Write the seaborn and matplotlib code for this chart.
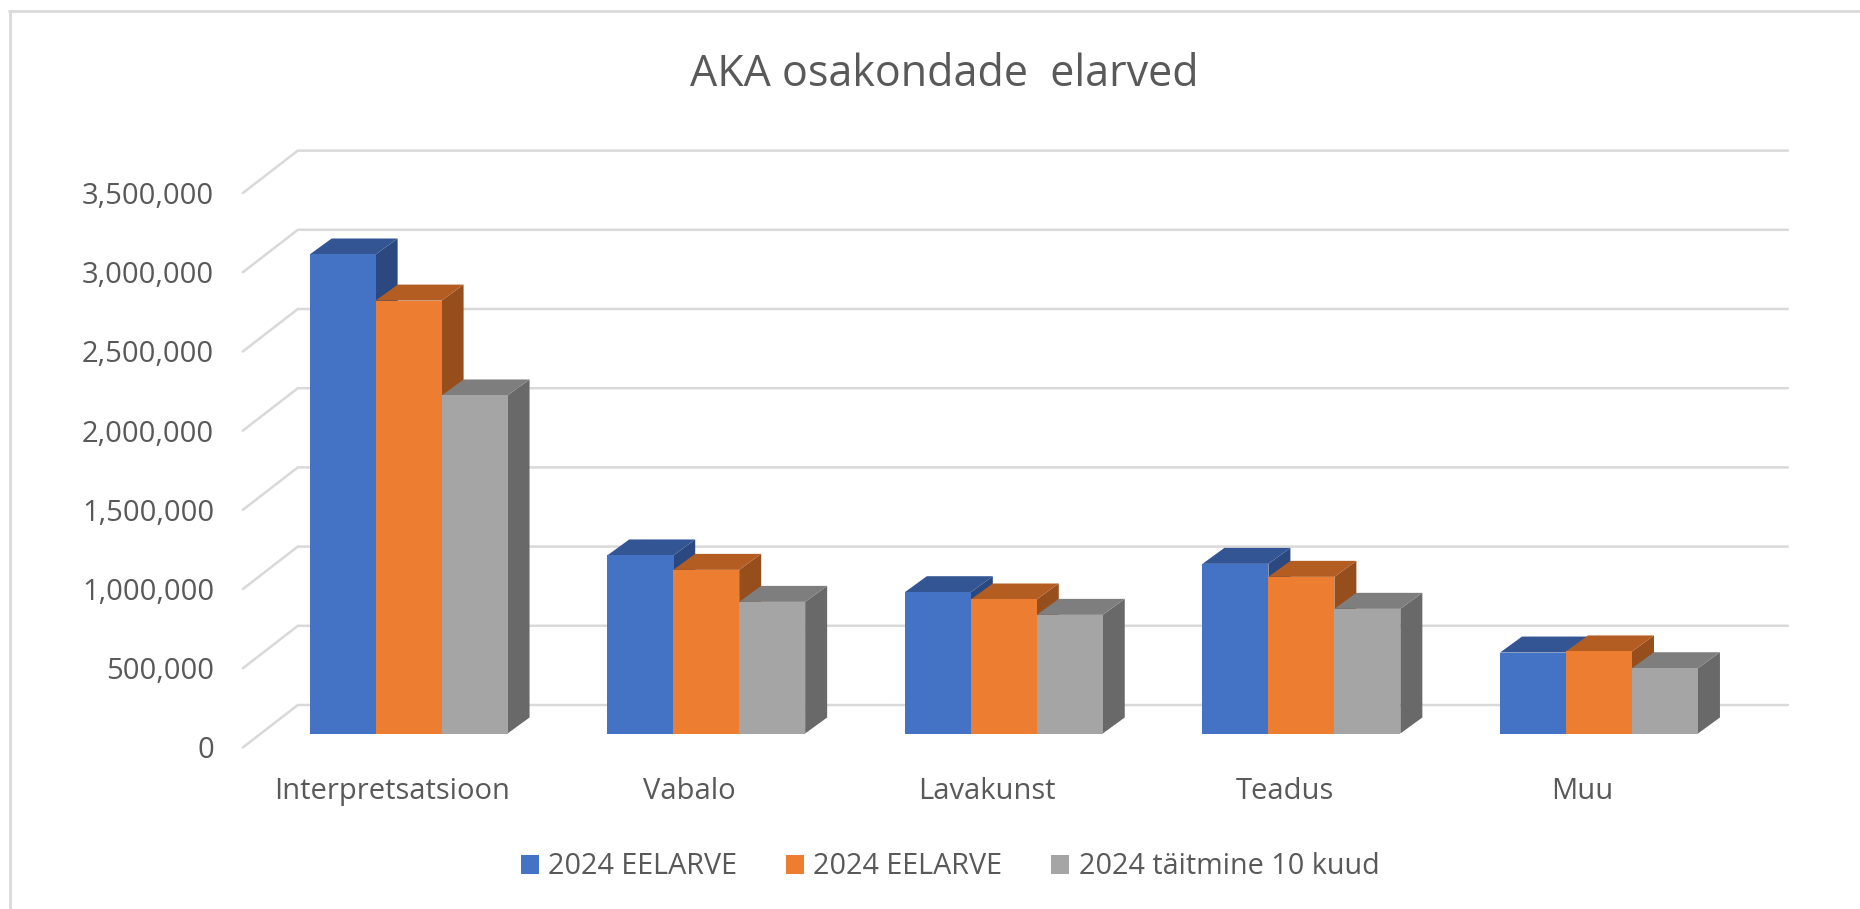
import numpy as np
import pandas as pd
import matplotlib
matplotlib.use("Agg")
import matplotlib.pyplot as plt
from matplotlib.lines import Line2D
from matplotlib.patches import Polygon
from matplotlib.transforms import Affine2D
import seaborn as sns

title = "AKA osakondade  elarved"
categories = ["Interpretsatsioon", "Vabalo", "Lavakunst", "Teadus", "Muu"]
series_labels = ["2024 EELARVE", "2024 EELARVE", "2024 täitmine 10 kuud"]
eelarve_a = [3024000, 1124000, 892000, 1071000, 511000]
eelarve_b = [2733000, 1033000, 846000, 989000, 518000]
taitmine = [2134000, 831000, 749000, 787000, 412000]
y_ticks = [0, 500000, 1000000, 1500000, 2000000, 2500000, 3000000, 3500000]

front_colors = ["#4472C4", "#ED7D31", "#A5A5A5"]
side_colors = ["#2B4880", "#964F1C", "#696969"]
top_colors = ["#335594", "#B35D22", "#7E7E7E"]
text_color = "#595959"
grid_color = "#D9D9D9"

sns.set_theme(style="white")
plt.rcParams["font.family"] = ["Open Sans", "DejaVu Sans"]

W, H = 1860, 909
fig = plt.figure(figsize=(W / 100, H / 100), dpi=100, facecolor="white")
PX_L, PX_R, PX_B, PX_T = 259.8, 1747.8, 733.5, 179.1
ax = fig.add_axes([PX_L / W, (H - PX_B) / H, (PX_R - PX_L) / W, (PX_B - PX_T) / H])

keys = ["a", "b", "c"]
df = pd.DataFrame({
    "cat": np.repeat(categories, 3),
    "key": keys * len(categories),
    "value": np.column_stack([eelarve_a, eelarve_b, taitmine]).ravel(),
})
sns.barplot(data=df, x="cat", y="value", hue="key", hue_order=keys, order=categories,
            palette=dict(zip(keys, front_colors)), saturation=1, width=0.665, gap=0,
            dodge=True, linewidth=0, ax=ax, errorbar=None)
ax.set_xlim(-0.5, 4.5)
ax.set_ylim(0, 3500000)

px_x = 1 / ((PX_R - PX_L) / 5)
px_y = 3500000 / (PX_B - PX_T)

# pseudo-3D floor and back wall gridlines
fx, fy = -17 * px_x, -14 * px_y
bx, by = 40 * px_x, 28.5 * px_y
for v in y_ticks:
    ax.plot([-0.5 + fx, -0.5 + bx - 2 * px_x, 4.5 + bx], [v + fy, v + by, v + by], color=grid_color,
            lw=1.8, clip_on=False, zorder=1, solid_joinstyle="miter")

# pseudo-3D bar faces
dx, dy = 22 * px_x, 16 * px_y
for s, container in enumerate(ax.containers):
    for c, bar in enumerate(container):
        base = 10 + c * 10 + s * 2
        bar.set_zorder(base + 1)
        x0, x1 = bar.get_x(), bar.get_x() + bar.get_width()
        h = bar.get_height()
        ax.add_patch(Polygon([(x1, 0), (x1 + dx, dy), (x1 + dx, h + dy), (x1, h)], closed=True,
                             facecolor=side_colors[s], edgecolor="none", clip_on=False, zorder=base))
        ax.add_patch(Polygon([(x0, h), (x0 + dx, h + dy), (x1 + dx, h + dy), (x1, h)], closed=True,
                             facecolor=top_colors[s], edgecolor="none", clip_on=False, zorder=base))

ax.set_xlabel("")
ax.set_ylabel("")
ax.set_yticks(y_ticks)
ax.set_yticklabels([f"{v:,}" for v in y_ticks])
ax.tick_params(axis="both", length=0, labelsize=21, labelcolor=text_color)
ax.tick_params(axis="x", pad=31)
for lab in ax.get_yticklabels():
    lab.set_transform(lab.get_transform() + Affine2D().translate(-41, -14))
for lab in ax.get_xticklabels():
    lab.set_transform(lab.get_transform() + Affine2D().translate(-17, 0))
sns.despine(ax=ax, left=True, bottom=True)

handles, _ = ax.get_legend_handles_labels()
leg = ax.legend(handles, series_labels, loc="center", bbox_to_anchor=(950 / W, 1 - 867 / H),
                bbox_transform=fig.transFigure, ncol=3, frameon=False, fontsize=20.7,
                handlelength=0.63, handleheight=0.63, handletextpad=0.33, columnspacing=1.69,
                labelcolor=text_color, borderpad=0, borderaxespad=0)

fig.text(944 / W, 1 - 75 / H, title, ha="center", va="center", fontsize=31, color=text_color)

fig.add_artist(Line2D([9.5 / W, 9.5 / W], [0, 1 - 10.5 / H], color=grid_color, lw=2))
fig.add_artist(Line2D([8.5 / W, 1], [1 - 10.5 / H, 1 - 10.5 / H], color=grid_color, lw=2))

fig.savefig("out.png", dpi=100, facecolor="white")
